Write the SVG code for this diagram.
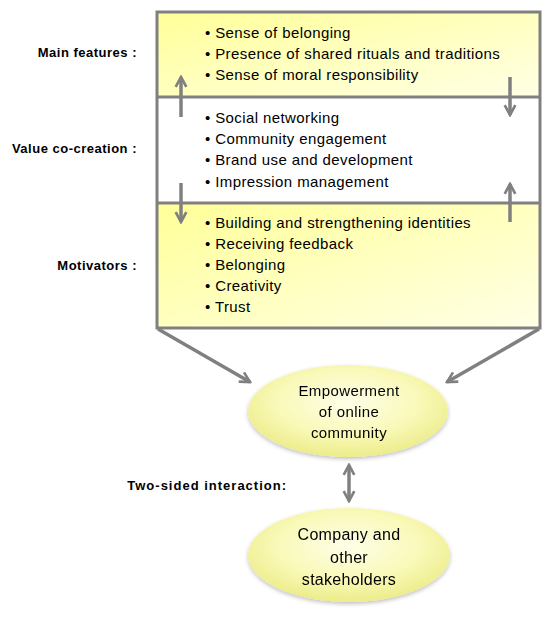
<svg xmlns="http://www.w3.org/2000/svg" width="551" height="619" viewBox="0 0 551 619">
<style>
.lbl{font-family:"Liberation Sans",Arial,sans-serif;font-weight:bold;font-size:13px;letter-spacing:0.5px;fill:#000;text-anchor:end}
.item{font-family:"Liberation Sans",Arial,sans-serif;font-size:15px;letter-spacing:0.4px;fill:#000}
.ell{font-family:"Liberation Sans",Arial,sans-serif;font-size:15px;letter-spacing:0.4px;fill:#000;text-anchor:middle}
.ell2{font-family:"Liberation Sans",Arial,sans-serif;font-size:16px;letter-spacing:0.3px;fill:#000;text-anchor:middle}
.con{stroke:#808080;stroke-width:3.5;fill:none}
.border{stroke:#808080;stroke-width:3;fill:none}
</style>
<defs>
<linearGradient id="yg" x1="0" y1="0" x2="1" y2="1">
<stop offset="0" stop-color="#ffff99"/>
<stop offset="1" stop-color="#ffffe6"/>
</linearGradient>
<radialGradient id="eg" cx="0.5" cy="0.4" r="0.6">
<stop offset="0" stop-color="#fefee8"/>
<stop offset="0.6" stop-color="#f9f9b8"/>
<stop offset="1" stop-color="#ecec8a"/>
</radialGradient>
<filter id="sh" x="-20%" y="-20%" width="140%" height="150%">
<feGaussianBlur in="SourceAlpha" stdDeviation="2"/>
<feOffset dx="0" dy="2"/>
<feComponentTransfer><feFuncA type="linear" slope="0.25"/></feComponentTransfer>
<feMerge><feMergeNode/><feMergeNode in="SourceGraphic"/></feMerge>
</filter>
<marker id="ah" viewBox="0 0 10 10" refX="8.5" refY="5" markerWidth="3.8" markerHeight="3.8" orient="auto-start-reverse" markerUnits="strokeWidth">
<polyline points="1,1 8.5,5 1,9" fill="none" stroke="#808080" stroke-width="2"/>
</marker>
</defs>

<g id="labels">
<text class="lbl" x="137" y="57">Main features :</text>
<text class="lbl" x="137" y="153">Value co-creation :</text>
<text class="lbl" x="137" y="270">Motivators :</text>
<text class="lbl" x="287" y="490" style="letter-spacing:1px">Two-sided interaction:</text>
</g>

<g id="main-features">
<rect x="157" y="12" width="383" height="85" fill="url(#yg)"/>
<text class="item" x="205" y="38">• Sense of belonging</text>
<text class="item" x="205" y="59">• Presence of shared rituals and traditions</text>
<text class="item" x="205" y="80">• Sense of moral responsibility</text>
</g>

<g id="value-co-creation">
<rect x="157" y="97" width="383" height="106" fill="#ffffff"/>
<text class="item" x="205" y="123">• Social networking</text>
<text class="item" x="205" y="144">• Community engagement</text>
<text class="item" x="205" y="165">• Brand use and development</text>
<text class="item" x="205" y="187">• Impression management</text>
</g>

<g id="motivators">
<rect x="157" y="203" width="383" height="125" fill="url(#yg)"/>
<text class="item" x="205" y="228">• Building and strengthening identities</text>
<text class="item" x="205" y="249">• Receiving feedback</text>
<text class="item" x="205" y="270">• Belonging</text>
<text class="item" x="205" y="291">• Creativity</text>
<text class="item" x="205" y="312">• Trust</text>
</g>

<g id="box-border">
<rect class="border" x="157" y="12" width="383" height="316"/>
<line class="border" x1="157" y1="97" x2="540" y2="97"/>
<line class="border" x1="157" y1="203" x2="540" y2="203"/>
</g>

<g id="empowerment" filter="url(#sh)">
<ellipse cx="348" cy="411" rx="100" ry="46" fill="url(#eg)"/>
<text class="ell" x="349" y="396">Empowerment</text>
<text class="ell" x="349" y="417">of online</text>
<text class="ell" x="349" y="438">community</text>
</g>

<g id="company" filter="url(#sh)">
<ellipse cx="349" cy="555" rx="101" ry="47" fill="url(#eg)"/>
<text class="ell2" x="349" y="540">Company and</text>
<text class="ell2" x="349" y="563">other</text>
<text class="ell2" x="349" y="585">stakeholders</text>
</g>

<g id="connectors">
<line class="con" x1="181" y1="117" x2="181" y2="77" marker-end="url(#ah)"/>
<line class="con" x1="510" y1="77" x2="510" y2="115" marker-end="url(#ah)"/>
<line class="con" x1="181" y1="183" x2="181" y2="222" marker-end="url(#ah)"/>
<line class="con" x1="510" y1="222" x2="510" y2="184" marker-end="url(#ah)"/>
<line class="con" x1="158" y1="329" x2="250" y2="382" marker-end="url(#ah)"/>
<line class="con" x1="539" y1="329" x2="447" y2="382" marker-end="url(#ah)"/>
<line class="con" x1="349" y1="465" x2="349" y2="501" marker-start="url(#ah)" marker-end="url(#ah)"/>
</g>
</svg>
